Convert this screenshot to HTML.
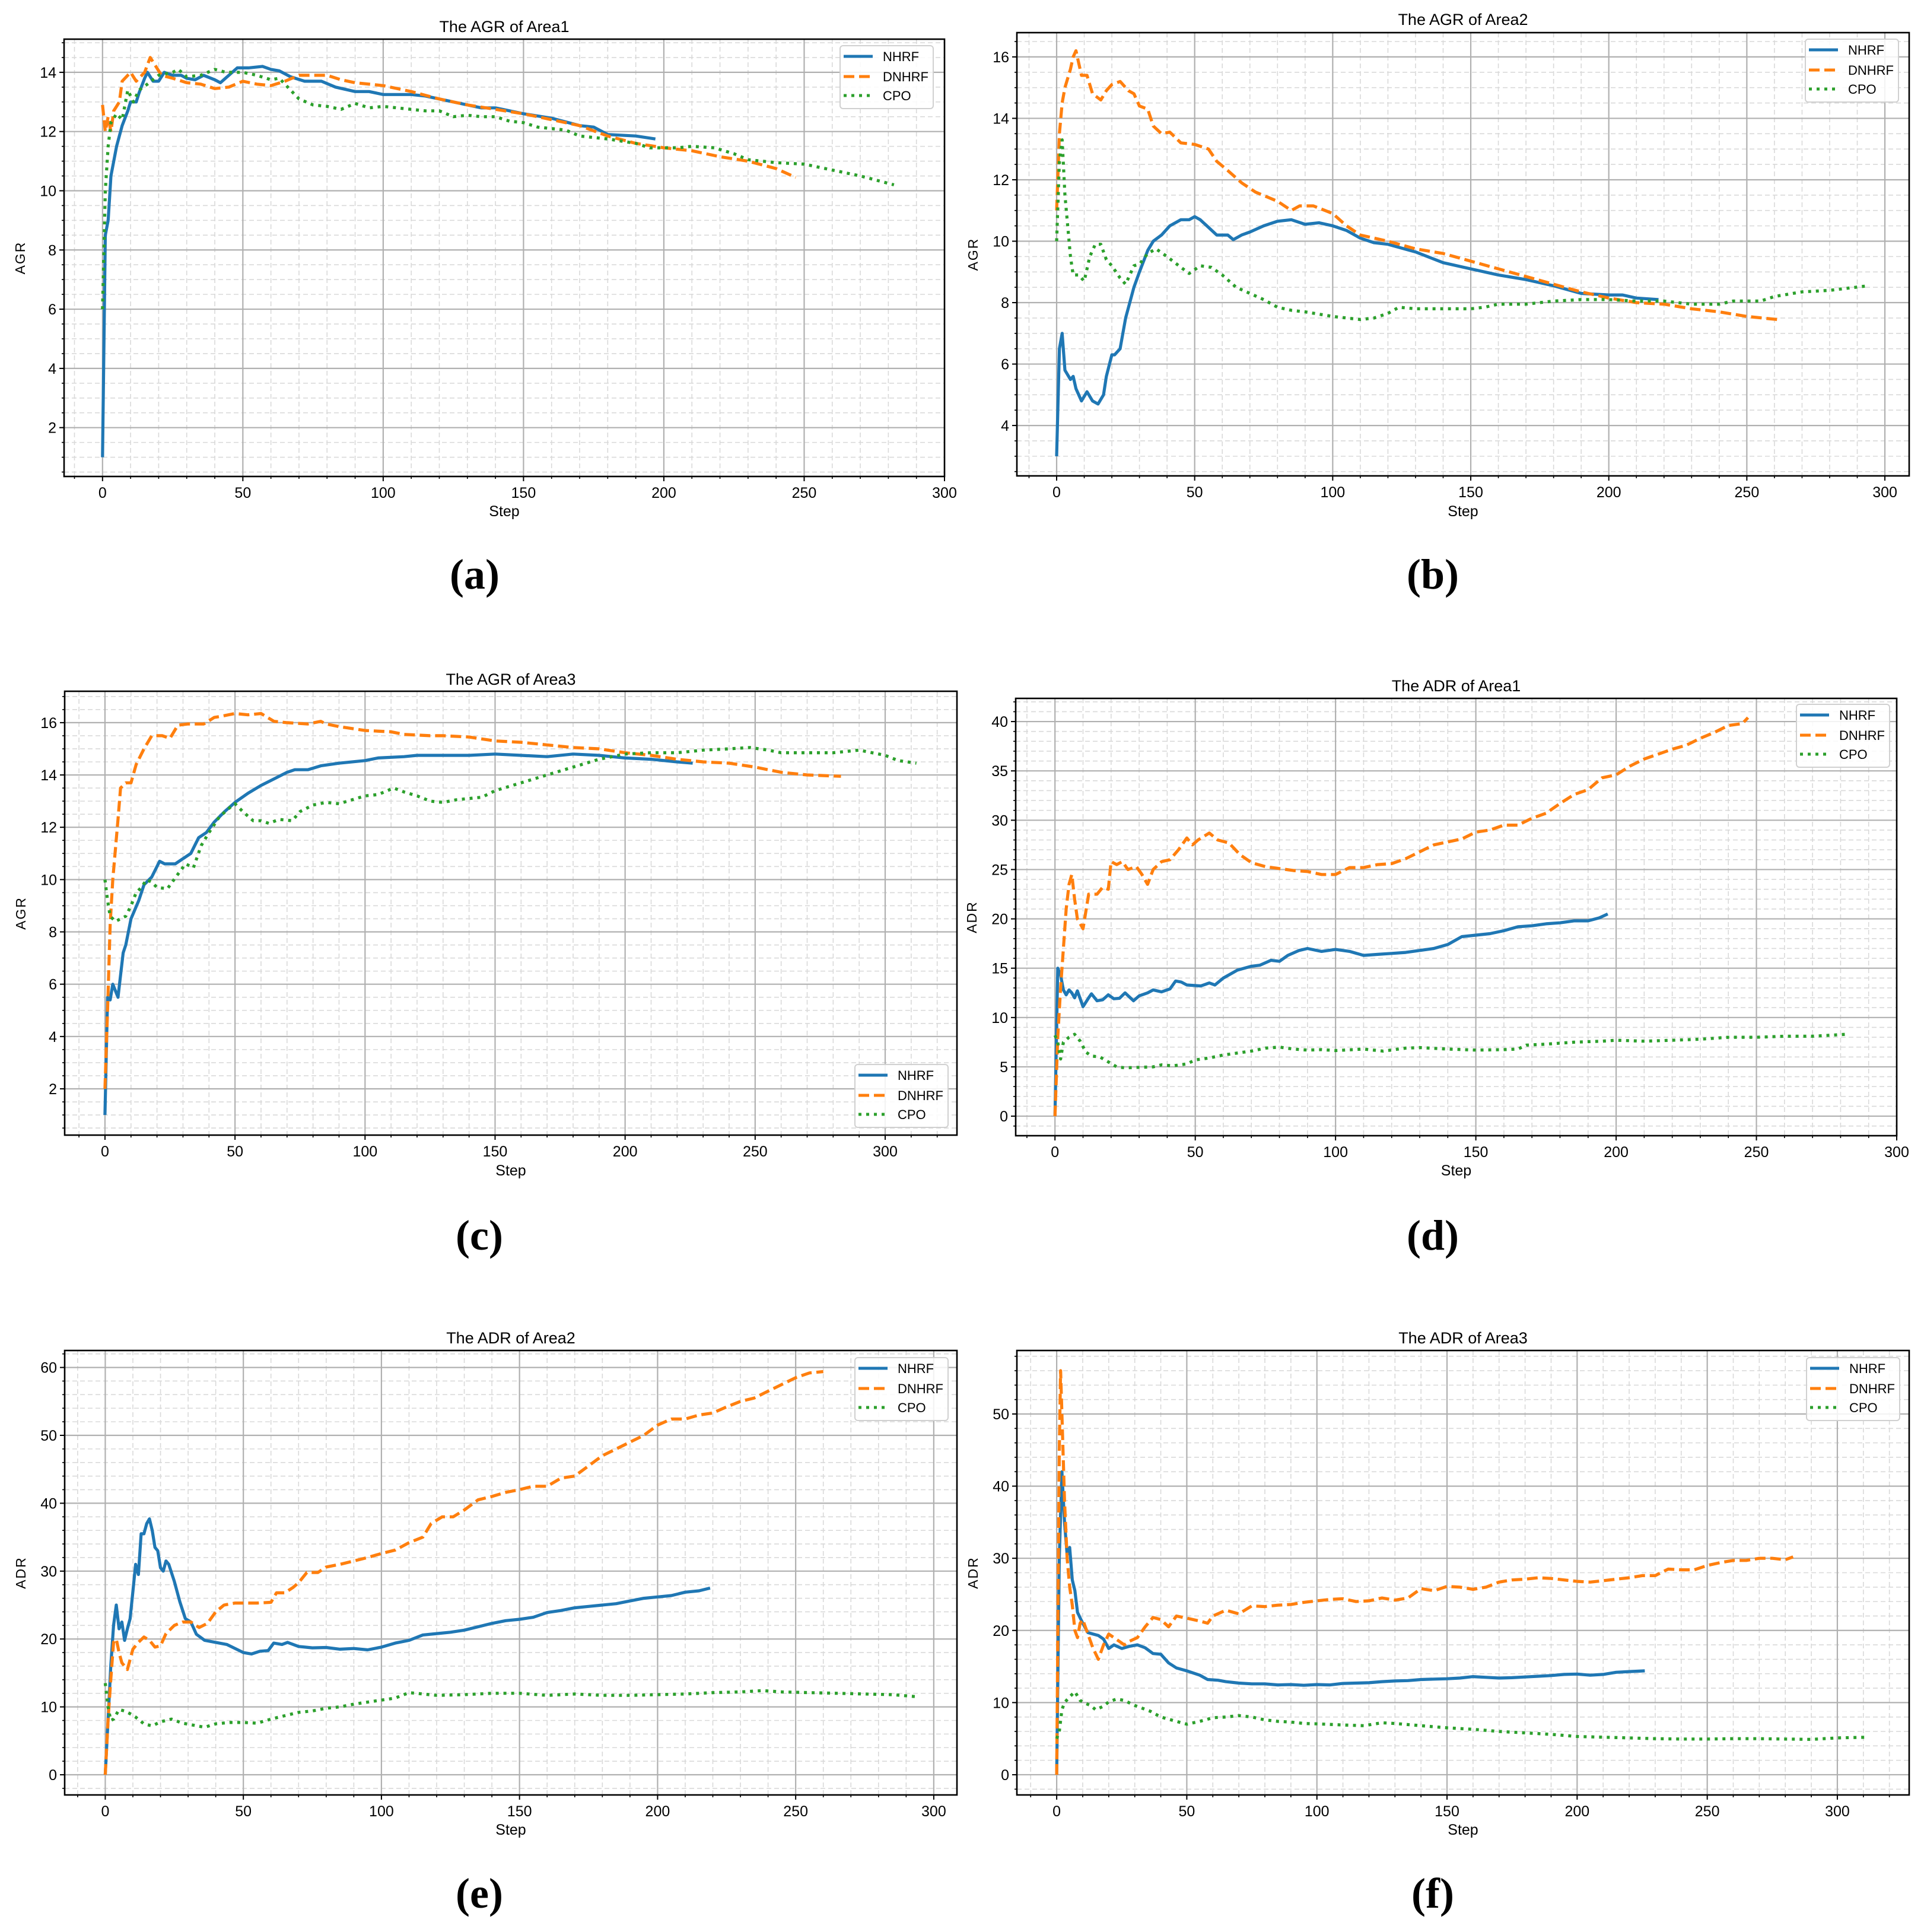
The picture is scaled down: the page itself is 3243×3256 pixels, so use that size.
<!DOCTYPE html>
<html><head><meta charset="utf-8"><title>AGR / ADR charts</title>
<style>
html,body{margin:0;padding:0;background:#fff;}
svg{display:block;}
text{font-family:"Liberation Sans",sans-serif;}
text.sub{font-family:"Liberation Serif",serif;}
</style></head>
<body>
<svg id="fig" xmlns="http://www.w3.org/2000/svg" width="3243" height="3256" viewBox="0 0 3243 3256"></svg>
<script>
// ---------- Data ----------
// Panel a: AGR Area1
const aNhrfX=[0,1,2,3,5,7,9,10,12,13,15,16,18,20,22,25,28,30,33,36,40,42,45,48,52,57,60,63,67,72,78,83,90,95,100,110,115,120,130,135,140,150,160,170,175,180,190,197];
const aNhrfY=[1,8.5,9,10.5,11.5,12.2,12.7,13,13,13.3,13.8,14,13.7,13.7,14,13.9,13.9,13.8,13.75,13.9,13.75,13.65,13.9,14.15,14.15,14.2,14.1,14.05,13.85,13.7,13.7,13.5,13.35,13.35,13.25,13.25,13.2,13.1,12.9,12.8,12.8,12.6,12.45,12.2,12.15,11.9,11.85,11.75];
const aDnhrfX=[0,1,2,3,4,6,7,10,12,15,17,19,21,25,30,35,40,45,50,55,60,65,70,80,85,90,100,110,120,130,140,150,160,170,180,190,200,210,220,230,240,247];
const aDnhrfY=[12.9,12,12.5,12,12.7,13,13.7,14,13.7,14,14.5,14.2,13.9,13.8,13.65,13.6,13.45,13.5,13.7,13.6,13.55,13.7,13.9,13.9,13.75,13.65,13.55,13.35,13.1,12.9,12.75,12.6,12.4,12.2,11.85,11.6,11.45,11.35,11.15,11,10.75,10.45];
const aCpoX=[0,1,2,3,5,7,9,11,13,16,20,25,27,30,35,40,44,50,55,60,63,66,70,75,80,85,90,95,100,110,115,120,125,130,135,140,145,150,155,165,170,180,190,195,200,205,210,218,225,230,240,250,260,270,282];
const aCpoY=[6,10,11.5,12.3,12.6,12.4,13.4,13,13.4,13.6,13.9,14,14.1,13.85,13.9,14.1,14,14,13.9,13.75,13.8,13.5,13.1,12.9,12.85,12.75,12.95,12.8,12.85,12.75,12.7,12.7,12.5,12.55,12.5,12.5,12.35,12.3,12.15,12.05,11.85,11.75,11.6,11.45,11.45,11.45,11.5,11.45,11.25,11.05,10.95,10.9,10.7,10.5,10.2];
// Panel b: AGR Area2
const bNhrfX=[0,1,2,3,5,6,7,9,11,13,15,17,18,20,21,23,25,28,30,33,35,38,41,45,48,50,52,55,58,62,64,67,70,75,80,85,90,95,100,105,110,115,120,130,140,150,160,170,180,190,200,205,210,218];
const bNhrfY=[3,6.5,7,5.8,5.5,5.6,5.2,4.8,5.1,4.8,4.7,5,5.6,6.3,6.3,6.5,7.5,8.5,9,9.7,10,10.2,10.5,10.7,10.7,10.8,10.7,10.45,10.2,10.2,10.05,10.2,10.3,10.5,10.65,10.7,10.55,10.6,10.5,10.35,10.1,9.95,9.9,9.65,9.3,9.1,8.9,8.75,8.55,8.3,8.25,8.25,8.15,8.1];
const bDnhrfX=[0,1,2,3,5,6,7,8,9,11,13,16,18,20,23,26,28,30,33,35,38,41,45,50,55,58,62,67,72,80,85,88,93,100,105,110,120,130,140,150,160,170,180,190,200,210,220,230,240,250,261];
const bDnhrfY=[11,13.5,14.5,15,15.6,16,16.2,15.8,15.4,15.4,14.8,14.6,14.9,15.1,15.2,14.9,14.8,14.4,14.3,13.75,13.5,13.55,13.2,13.15,13,12.6,12.3,11.9,11.6,11.3,11,11.15,11.15,10.9,10.5,10.2,10,9.75,9.6,9.35,9.1,8.85,8.6,8.35,8.15,8,7.95,7.8,7.7,7.55,7.45];
const bCpoX=[0,1,2,3,5,6,8,10,12,14,16,18,20,23,25,28,30,33,36,40,45,48,52,56,60,65,70,75,80,85,90,100,110,115,120,124,130,140,150,155,160,170,180,190,200,210,220,230,240,245,255,260,270,280,294];
const bCpoY=[10,12.6,13.3,11.5,9.5,8.9,8.9,8.7,9.5,9.9,9.9,9.4,9.2,8.8,8.6,9.2,9.25,9.6,9.75,9.5,9.15,8.95,9.2,9.15,8.9,8.5,8.3,8.1,7.85,7.75,7.7,7.55,7.45,7.5,7.65,7.85,7.8,7.8,7.8,7.85,7.95,7.95,8.05,8.1,8.1,8.05,8.05,7.95,7.95,8.05,8.05,8.2,8.35,8.4,8.55];
// Panel c: AGR Area3
const cNhrfX=[0,1,2,3,5,7,8,10,13,15,18,21,23,27,30,33,36,39,42,46,50,55,60,65,70,73,78,83,90,100,105,115,120,130,140,150,160,170,180,190,200,210,220,226];
const cNhrfY=[1,5.5,5.4,6,5.5,7.2,7.5,8.5,9.2,9.8,10.1,10.7,10.6,10.6,10.8,11,11.6,11.8,12.2,12.6,12.95,13.3,13.6,13.85,14.1,14.2,14.2,14.35,14.45,14.55,14.65,14.7,14.75,14.75,14.75,14.8,14.75,14.7,14.8,14.75,14.65,14.6,14.5,14.45];
const cDnhrfX=[0,1,2,3,5,6,8,10,12,15,18,22,25,28,32,38,42,45,50,55,60,65,70,78,83,85,90,100,110,115,125,130,140,150,160,170,180,190,200,210,220,230,240,250,260,270,283];
const cDnhrfY=[2,5,8.3,10,12.3,13.5,13.7,13.7,14.4,15,15.5,15.5,15.4,15.9,15.95,15.95,16.2,16.25,16.35,16.3,16.35,16.05,16,15.95,16.05,15.95,15.85,15.7,15.65,15.55,15.5,15.5,15.45,15.3,15.25,15.15,15.05,15,14.85,14.75,14.6,14.5,14.45,14.3,14.1,14,13.95];
const cCpoX=[0,1,2,4,6,8,10,12,14,16,18,20,24,28,31,34,37,40,44,48,50,53,57,60,63,67,72,75,80,85,90,95,100,105,111,115,120,125,130,135,140,145,150,160,170,180,190,200,210,220,230,240,248,255,260,270,280,290,300,305,312];
const cCpoY=[10,9.2,8.6,8.4,8.5,8.6,9,9.5,9.7,10,9.9,9.7,9.65,10.2,10.6,10.45,11.3,11.8,12.4,12.75,12.9,12.6,12.25,12.25,12.15,12.3,12.25,12.6,12.85,12.95,12.9,13.05,13.2,13.25,13.5,13.35,13.2,13,12.95,13.05,13.1,13.15,13.4,13.7,14,14.3,14.6,14.8,14.85,14.85,14.95,15,15.05,14.95,14.85,14.85,14.85,14.95,14.75,14.55,14.45];
// Panel d: ADR Area1
const dNhrfX=[0,1,2,3,4,5,6,7,8,10,12,13,15,17,19,21,23,25,28,30,33,35,38,41,43,45,47,52,55,57,60,65,70,73,77,80,83,87,90,95,100,105,110,115,120,125,130,135,140,145,150,155,160,165,170,175,180,185,190,194,197];
const dNhrfY=[0,15,14.3,12.8,12.3,12.8,12.5,12,12.7,11.1,12,12.4,11.7,11.8,12.3,11.9,11.95,12.5,11.7,12.2,12.5,12.8,12.6,12.9,13.7,13.6,13.3,13.2,13.5,13.3,14,14.8,15.2,15.3,15.8,15.7,16.3,16.8,17,16.7,16.9,16.7,16.3,16.4,16.5,16.6,16.8,17,17.4,18.2,18.35,18.5,18.8,19.2,19.3,19.5,19.6,19.8,19.8,20.1,20.5];
const dDnhrfX=[0,1,2,3,4,5,6,7,8,10,12,15,17,19,20,22,24,26,29,31,33,35,38,41,44,47,49,51,55,58,62,66,70,75,80,85,90,95,100,105,110,115,120,125,130,135,140,145,150,155,160,165,170,175,180,185,190,195,200,205,210,215,220,225,230,235,240,245,247];
const dDnhrfY=[0,8,13,17,21,23.5,24.5,22,20,19,22.5,22.5,23.2,23,25.8,25.5,25.8,25,25.3,24.5,23.5,25,25.8,26,27,28.2,27.5,28,28.7,28,27.7,26.5,25.7,25.3,25.1,24.9,24.8,24.5,24.5,25.2,25.2,25.5,25.6,26.1,26.8,27.5,27.8,28.1,28.8,29,29.5,29.5,30.2,30.7,31.7,32.6,33.1,34.3,34.6,35.5,36.2,36.7,37.2,37.6,38.3,38.9,39.6,39.8,40.4];
const dCpoX=[0,1,2,3,5,7,9,11,13,16,19,22,25,30,35,38,42,47,50,55,60,65,70,75,80,85,90,95,100,110,117,125,130,140,150,160,165,168,175,185,195,200,210,220,230,240,250,260,270,282];
const dCpoY=[8.2,7.5,5.8,7.5,8,8.3,7.6,6.5,6.1,6,5.5,5,4.9,4.95,5,5.2,5.1,5.3,5.7,5.9,6.2,6.4,6.6,6.9,7,6.8,6.7,6.75,6.65,6.8,6.6,6.9,6.95,6.8,6.7,6.75,6.8,7.2,7.3,7.5,7.6,7.7,7.6,7.7,7.8,8,8,8.1,8.1,8.3];
// Panel e: ADR Area2
const eNhrfX=[0,1,2,3,4,5,6,7,8,9,10,11,12,13,14,15,16,17,18,19,20,21,22,23,25,27,29,31,33,36,40,44,47,50,53,56,59,61,64,66,70,75,80,85,90,95,100,105,110,115,120,125,130,135,140,145,150,155,160,165,170,175,180,185,190,195,200,205,210,215,219];
const eNhrfY=[0,8,16,22,25,21.5,22.5,19.8,21.5,23,27,31,29.5,35.5,35.5,37,37.7,36,33.5,33,30.5,30,31.5,31,28.5,25.5,23,22.5,20.7,19.8,19.5,19.2,18.6,18,17.8,18.2,18.3,19.4,19.2,19.5,18.9,18.7,18.75,18.5,18.6,18.4,18.8,19.4,19.8,20.6,20.8,21,21.3,21.8,22.3,22.7,22.9,23.2,23.9,24.2,24.6,24.8,25,25.2,25.6,26,26.2,26.4,26.9,27.1,27.5];
const eDnhrfX=[0,1,2,3,4,5,6,8,10,12,14,16,18,20,22,25,28,31,34,37,40,43,47,50,55,60,62,65,68,70,73,77,80,85,90,95,100,105,110,115,118,122,126,130,135,140,145,150,155,160,165,170,175,180,185,190,195,200,205,210,215,220,225,230,235,240,245,250,255,260];
const eDnhrfY=[0,8,14,19.5,20,18,16.5,15.5,18.5,19.5,20.3,19.8,18.8,19,20.8,22,22.5,22.5,21.7,22.3,24,25,25.3,25.3,25.3,25.4,26.8,26.8,27.6,28.3,29.8,29.8,30.6,31,31.5,32,32.6,33.1,34.2,35,37,38,38,39,40.5,41,41.6,42,42.5,42.5,43.7,44,45.5,47,48,49,50,51.5,52.4,52.4,53,53.3,54.2,55,55.5,56.5,57.5,58.5,59.2,59.4];
const eCpoX=[0,1,2,3,5,7,9,11,14,17,20,24,28,32,36,40,45,50,55,60,65,70,75,80,85,90,95,100,105,110,115,120,130,140,150,160,170,180,190,200,210,220,230,238,245,255,265,275,285,294];
const eCpoY=[13.5,10,8,8.2,9.6,9.4,9,8.5,7.5,7.2,7.8,8.2,7.6,7.3,7,7.5,7.7,7.7,7.6,8.2,8.7,9.2,9.4,9.8,10,10.4,10.7,11,11.3,12.1,11.9,11.7,11.8,12,12,11.7,11.9,11.7,11.7,11.8,11.9,12.1,12.2,12.4,12.2,12.1,12,11.9,11.8,11.5];
// Panel f: ADR Area3
const fNhrfX=[0,1,2,3,4,5,6,7,8,10,12,14,16,18,20,22,25,28,31,34,37,40,43,46,50,55,58,62,65,70,75,80,85,90,95,100,105,110,115,120,125,130,135,140,145,150,155,160,165,170,175,180,185,190,195,200,205,210,215,220,226];
const fNhrfY=[0,30,42,35,30.5,31.5,27,25.5,22.5,21,19.7,19.5,19.3,18.8,17.5,18,17.5,17.8,18,17.6,16.8,16.7,15.5,14.8,14.4,13.8,13.2,13.1,12.9,12.7,12.6,12.6,12.45,12.5,12.4,12.5,12.45,12.65,12.7,12.75,12.9,13,13.05,13.2,13.25,13.3,13.4,13.6,13.5,13.4,13.45,13.55,13.65,13.75,13.9,13.95,13.8,13.9,14.2,14.3,14.4];
const fDnhrfX=[0,1,1.5,2,3,4,5,6,7,8,9,10,12,14,16,18,20,22,24,26,28,31,34,37,40,43,46,50,55,58,60,65,70,75,80,85,90,95,100,105,110,115,120,125,130,135,140,145,150,155,160,165,170,175,180,185,190,195,200,205,210,215,220,225,230,235,240,245,250,255,260,265,270,275,280,283];
const fDnhrfY=[0,45,56,50,38,30,26,23.5,20,19,21,21.5,19.5,17.5,16,18,19.5,19,18.5,18,18.5,19,20.5,21.8,21.5,20.5,22,21.7,21.3,21,22,22.8,22.3,23.4,23.3,23.5,23.6,23.9,24.1,24.3,24.4,24,24.1,24.5,24.2,24.5,25.8,25.5,26.1,26,25.7,26,26.7,27,27.1,27.3,27.2,27,26.8,26.7,26.9,27.1,27.3,27.6,27.6,28.5,28.4,28.4,29,29.4,29.7,29.7,30,30,29.8,30.2];
const fCpoX=[0,1,2,3,5,7,9,11,13,15,18,20,23,26,30,33,36,40,45,50,55,60,65,70,75,80,85,90,95,100,110,118,125,130,140,150,160,170,180,190,200,210,220,230,240,250,260,270,280,290,300,312];
const fCpoY=[5,6,9,10,10.8,11.5,10.3,9.9,9.6,9,9.5,10.1,10.5,10.3,9.6,9.2,8.8,8,7.5,7,7.4,7.9,8,8.2,8,7.6,7.4,7.3,7.1,7.05,6.9,6.8,7.2,7.1,6.8,6.5,6.3,6,5.8,5.6,5.3,5.2,5.1,5,4.95,4.95,5,5,4.95,4.9,5.1,5.2];

const xTickLabels=[0,50,100,150,200,250,300];
const aYTicks=[2,4,6,8,10,12,14];
const bYTicks=[4,6,8,10,12,14,16];
const cYTicks=[2,4,6,8,10,12,14,16];
const dYTicks=[0,5,10,15,20,25,30,35,40];
const eYTicks=[0,10,20,30,40,50,60];
const fYTicks=[0,10,20,30,40,50];

// ---------- Layout ----------
const NS='http://www.w3.org/2000/svg';
const svg=document.getElementById('fig');
function mk(tag,attrs,parent){const e=document.createElementNS(NS,tag);for(const k in attrs)e.setAttribute(k,attrs[k]);(parent||svg).appendChild(e);return e;}

const panels=[
 {id:'a',title:'The AGR of Area1',yl:'AGR',L:108,R:1592,T:66,B:803,x0:-13.7,x1:300,y0:0.35,y1:15.12,yt:aYTicks,ymin:0.5,titleY:44,stepY:861,labY:968,cx:800,
  leg:[1416,77],series:[[aNhrfX,aNhrfY],[aDnhrfX,aDnhrfY],[aCpoX,aCpoY]],sub:'(a)'},
 {id:'b',title:'The AGR of Area2',yl:'AGR',L:1714,R:3218,T:55,B:802,x0:-14.4,x1:308.8,y0:2.36,y1:16.79,yt:bYTicks,ymin:0.5,titleY:32,stepY:861,labY:968,cx:2415,
  leg:[3043,66],series:[[bNhrfX,bNhrfY],[bDnhrfX,bDnhrfY],[bCpoX,bCpoY]],sub:'(b)'},
 {id:'c',title:'The AGR of Area3',yl:'AGR',L:109,R:1613,T:1165,B:1913,x0:-15.5,x1:327.6,y0:0.23,y1:17.2,yt:cYTicks,ymin:0.5,titleY:1144,stepY:1972,labY:2082,cx:808,
  leg:[1441,1794],series:[[cNhrfX,cNhrfY],[cDnhrfX,cDnhrfY],[cCpoX,cCpoY]],sub:'(c)'},
 {id:'d',title:'The ADR of Area1',yl:'ADR',L:1712,R:3197,T:1177,B:1914,x0:-14,x1:300,y0:-1.98,y1:42.35,yt:dYTicks,ymin:1,titleY:1155,stepY:1972,labY:2082,cx:2415,
  leg:[3028,1187],series:[[dNhrfX,dNhrfY],[dDnhrfX,dDnhrfY],[dCpoX,dCpoY]],sub:'(d)'},
 {id:'e',title:'The ADR of Area2',yl:'ADR',L:109,R:1613,T:2276,B:3025,x0:-14.7,x1:308.4,y0:-2.97,y1:62.5,yt:eYTicks,ymin:2,titleY:2254,stepY:3083,labY:3191,cx:808,
  leg:[1441,2288],series:[[eNhrfX,eNhrfY],[eDnhrfX,eDnhrfY],[eCpoX,eCpoY]],sub:'(e)'},
 {id:'f',title:'The ADR of Area3',yl:'ADR',L:1714,R:3218,T:2276,B:3025,x0:-15.3,x1:327.6,y0:-2.8,y1:58.8,yt:fYTicks,ymin:2,titleY:2254,stepY:3083,labY:3191,cx:2415,
  leg:[3045,2288],series:[[fNhrfX,fNhrfY],[fDnhrfX,fDnhrfY],[fCpoX,fCpoY]],sub:'(f)'}
];
const names=['NHRF','DNHRF','CPO'];
const colors=['#1f77b4','#ff7f0e','#2ca02c'];
const dashes=['none','18,8','5,8'];

panels.forEach(p=>{
  const g=mk('g',{});
  
  
  const sx=v=>p.L+(v-p.x0)/(p.x1-p.x0)*(p.R-p.L);
  const sy=v=>p.B-(v-p.y0)/(p.y1-p.y0)*(p.B-p.T);
  const cid='clip'+p.id;
  const cp=mk('clipPath',{id:cid},g);mk('rect',{x:p.L,y:p.T,width:p.R-p.L,height:p.B-p.T},cp);
  const gm=mk('g',{stroke:'#d9d9d9','stroke-width':1.6,'stroke-dasharray':'8,5'},g);
  
  for(let v=Math.ceil(p.x0/10)*10;v<=p.x1;v+=10){if(v%50!==0)mk('line',{x1:sx(v),x2:sx(v),y1:p.T,y2:p.B},gm);}
  const ys=Math.ceil(p.y0/p.ymin);
  for(let k=ys;k*p.ymin<=p.y1;k++){const v=k*p.ymin;if(!p.yt.some(t=>Math.abs(t-v)<1e-6))mk('line',{x1:p.L,x2:p.R,y1:sy(v),y2:sy(v)},gm);}
  const gM=mk('g',{stroke:'#b0b0b0','stroke-width':2.2},g);
  
  xTickLabels.forEach(v=>{if(v<=p.x1+0.01)mk('line',{x1:sx(v),x2:sx(v),y1:p.T,y2:p.B},gM);});
  p.yt.forEach(v=>mk('line',{x1:p.L,x2:p.R,y1:sy(v),y2:sy(v)},gM));
  p.series.forEach((s,i)=>{
    let d='';s[0].forEach((x,j)=>{d+=(j?'L':'M')+sx(x).toFixed(1)+','+sy(s[1][j]).toFixed(1);});
    const pa=mk('path',{d:d,fill:'none',stroke:colors[i],'stroke-width':5.2,'stroke-linejoin':'round','clip-path':'url(#'+cid+')'},g);
    if(dashes[i]!=='none')pa.setAttribute('stroke-dasharray',dashes[i]);
    
    
  });
  const sp=mk('rect',{x:p.L,y:p.T,width:p.R-p.L,height:p.B-p.T,fill:'none',stroke:'#000','stroke-width':2.6},g);
  
  const gx=mk('g',{},g);
  for(let v=Math.ceil(p.x0/10)*10;v<=p.x1;v+=10){if(v%50!==0)mk('line',{x1:sx(v),x2:sx(v),y1:p.B,y2:p.B+4,stroke:'#000','stroke-width':1.6},gx);}
  xTickLabels.forEach(v=>{if(v<=p.x1+0.01){
    mk('line',{x1:sx(v),x2:sx(v),y1:p.B,y2:p.B+8,stroke:'#000','stroke-width':2},gx);
    const t=mk('text',{x:sx(v),y:p.B+36,'font-size':25,'text-anchor':'middle',fill:'#000'},gx);t.textContent=v;
    
  }});
  const gy=mk('g',{},g);
  for(let k=ys;k*p.ymin<=p.y1;k++){const v=k*p.ymin;mk('line',{x1:p.L,x2:p.L-4,y1:sy(v),y2:sy(v),stroke:'#000','stroke-width':1.6},gy);}
  p.yt.forEach(v=>{
    mk('line',{x1:p.L,x2:p.L-8,y1:sy(v),y2:sy(v),stroke:'#000','stroke-width':2},gy);
    const t=mk('text',{x:p.L-13,y:sy(v)+9,'font-size':25,'text-anchor':'end',fill:'#000'},gy);t.textContent=v;
    
  });
  const tt=mk('text',{x:(p.L+p.R)/2,y:p.titleY+10,'font-size':27,'text-anchor':'middle',fill:'#000'},g);tt.textContent=p.title;
  
  const xl=mk('text',{x:(p.L+p.R)/2,y:p.stepY+9,'font-size':25,'text-anchor':'middle',fill:'#000'},g);xl.textContent='Step';
  
  const ylx=p.L-66,yly=(p.T+p.B)/2;
  const yl=mk('text',{x:ylx,y:yly,'font-size':23,'text-anchor':'middle',fill:'#000',transform:'rotate(-90 '+ylx+' '+yly+')','letter-spacing':'2'},g);yl.textContent=p.yl;
  
  const sl=mk('text',{x:p.cx,y:p.labY+24,'font-size':72,'font-weight':'bold','text-anchor':'middle',fill:'#000','class':'sub',style:'font-family:"Liberation Serif",serif'},g);sl.textContent=p.sub;
  
  const lx=p.leg[0],ly=p.leg[1];
  const lg=mk('g',{},g);
  mk('rect',{x:lx,y:ly,width:157,height:106,rx:5,fill:'#fff','fill-opacity':0.85,stroke:'#d0d0d0','stroke-width':2},lg);
  [18,52,84].forEach((dy,i)=>{
    const e=mk('g',{},lg);
    const ln=mk('line',{x1:lx+6,x2:lx+55,y1:ly+dy,y2:ly+dy,stroke:colors[i],'stroke-width':5},e);
    if(dashes[i]!=='none')ln.setAttribute('stroke-dasharray',dashes[i]);
    const t=mk('text',{x:lx+72,y:ly+dy+8,'font-size':22,fill:'#000'},e);t.textContent=names[i];
  });
});
</script>
</body></html>
